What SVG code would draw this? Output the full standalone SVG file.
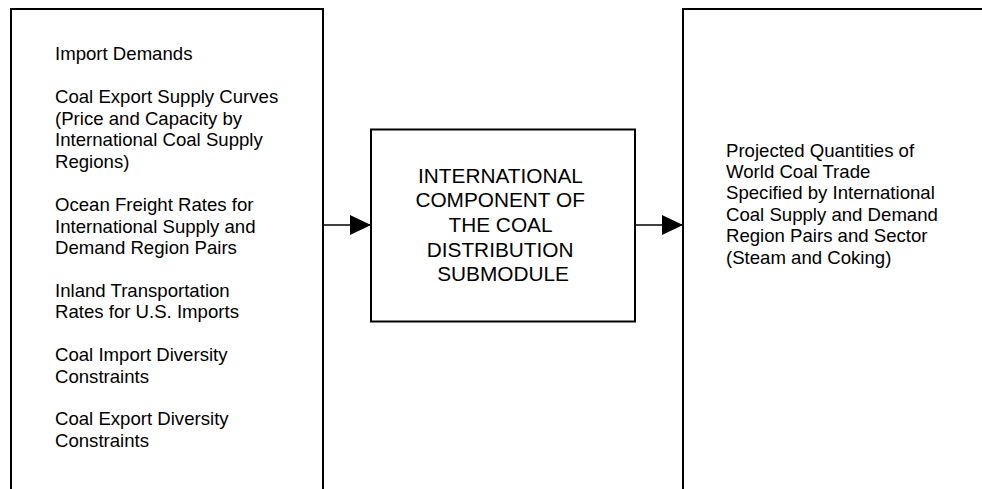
<svg xmlns="http://www.w3.org/2000/svg" width="982" height="489" viewBox="0 0 982 489">
<style>
.box{fill:#fff;stroke:#000;stroke-width:2}
.t{font-family:"Liberation Sans",Arial,sans-serif;font-size:18.6px;fill:#000}
.c{font-family:"Liberation Sans",Arial,sans-serif;font-size:20.8px;fill:#000;text-anchor:middle}
.conn{stroke:#000;stroke-width:1.3;fill:none}
</style>
<defs>
<marker id="ah" markerUnits="userSpaceOnUse" markerWidth="22" markerHeight="20" refX="21" refY="10" orient="auto">
<path d="M0,0 L21,10 L0,20 Z" fill="#000"/>
</marker>
</defs>
<rect width="982" height="489" fill="#fff"/>
<g id="inputs">
<path class="box" d="M11,489 V9 H323 V489"/>
<text class="t" x="55">
<tspan x="55" y="60">Import Demands</tspan>
<tspan x="55" y="103">Coal Export Supply Curves</tspan>
<tspan x="55" y="124.6">(Price and Capacity by</tspan>
<tspan x="55" y="146.2">International Coal Supply</tspan>
<tspan x="55" y="167.8">Regions)</tspan>
<tspan x="55" y="211">Ocean Freight Rates for</tspan>
<tspan x="55" y="232.6">International Supply and</tspan>
<tspan x="55" y="254.2">Demand Region Pairs</tspan>
<tspan x="55" y="296.5">Inland Transportation</tspan>
<tspan x="55" y="318">Rates for U.S. Imports</tspan>
<tspan x="55" y="361">Coal Import Diversity</tspan>
<tspan x="55" y="382.5">Constraints</tspan>
<tspan x="55" y="425">Coal Export Diversity</tspan>
<tspan x="55" y="446.5">Constraints</tspan>
</text>
</g>
<g id="submodule">
<rect class="box" x="371" y="129.5" width="264" height="192"/>
<text class="c">
<tspan x="503" y="182.7">INTERNATIONAL</tspan>
<tspan x="503" y="207">COMPONENT OF</tspan>
<tspan x="503" y="231.8">THE COAL</tspan>
<tspan x="503" y="256.6">DISTRIBUTION</tspan>
<tspan x="503" y="281.4">SUBMODULE</tspan>
</text>
</g>
<g id="outputs">
<path class="box" d="M683,489 V9 H990"/>
<text class="t">
<tspan x="726" y="156.7">Projected Quantities of</tspan>
<tspan x="726" y="178">World Coal Trade</tspan>
<tspan x="726" y="199.4">Specified by International</tspan>
<tspan x="726" y="220.8">Coal Supply and Demand</tspan>
<tspan x="726" y="242.2">Region Pairs and Sector</tspan>
<tspan x="726" y="263.6">(Steam and Coking)</tspan>
</text>
</g>
<g id="connectors">
<line class="conn" x1="323" y1="225" x2="371" y2="225" marker-end="url(#ah)"/>
<line class="conn" x1="635" y1="225" x2="683" y2="225" marker-end="url(#ah)"/>
</g>
</svg>
